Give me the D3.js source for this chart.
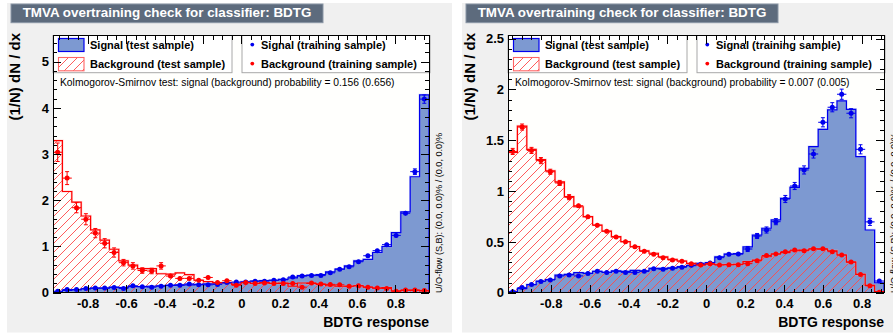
<!DOCTYPE html>
<html><head><meta charset="utf-8">
<script src="https://cdn.jsdelivr.net/npm/d3@7"></script>
<style>
body{margin:0;background:#fff;}
svg{display:block;font-family:"Liberation Sans",Arial,Helvetica,sans-serif;}
</style></head><body>
<svg id="c" width="893" height="335"></svg>
<script>
// ---------------- DATA ----------------
const nBins = 40;
const titleText = "TMVA overtraining check for classifier: BDTG";
const xTicks = [-0.8, -0.6, -0.4, -0.2, 0, 0.2, 0.4, 0.6, 0.8];
const yTicksL = [0, 1, 2, 3, 4, 5];
const yTicksR = [0, 0.5, 1, 1.5, 2, 2.5];
const ksL = "Kolmogorov-Smirnov test: signal (background) probability = 0.156 (0.656)";
const ksR = "Kolmogorov-Smirnov test: signal (background) probability = 0.007 (0.005)";
const uoText = "U/O-flow (S,B): (0.0, 0.0)% / (0.0, 0.0)%";

// Left panel
const sigTestL = [0.02,0.05,0.06,0.08,0.10,0.10,0.12,0.11,0.13,0.13,0.14,0.15,0.16,0.17,0.17,0.18,0.19,0.20,0.20,0.21,
                  0.24,0.25,0.26,0.27,0.29,0.32,0.37,0.38,0.39,0.45,0.51,0.58,0.69,0.72,0.87,1.00,1.30,1.75,2.51,4.28];
const bkgTestL = [3.29,2.19,1.96,1.66,1.36,1.14,0.94,0.69,0.60,0.52,0.52,0.41,0.40,0.43,0.39,0.27,0.24,0.22,0.22,0.18,
                  0.22,0.20,0.22,0.20,0.21,0.14,0.21,0.20,0.18,0.15,0.14,0.14,0.15,0.12,0.10,0.11,0.04,0.05,0.05,0.04];
const sigTrainL = [0.03,0.07,0.07,0.09,0.10,0.10,0.11,0.09,0.15,0.13,0.12,0.14,0.16,0.16,0.19,0.17,0.17,0.18,0.22,0.23,
                   0.23,0.25,0.25,0.27,0.28,0.34,0.36,0.37,0.37,0.43,0.51,0.56,0.67,0.80,0.91,1.04,1.24,1.72,2.62,4.19];
const bkgTrainL = [3.04,2.48,1.84,1.59,1.29,1.07,0.87,0.65,0.58,0.48,0.47,0.58,0.36,0.31,0.31,0.27,0.33,0.22,0.26,0.16,
                   0.22,0.20,0.21,0.20,0.20,0.20,0.12,0.21,0.19,0.18,0.17,0.14,0.15,0.12,0.10,0.09,0.03,0.06,0.06,0.05];
const sigErrL = [0.01,0.02,0.02,0.02,0.02,0.02,0.02,0.02,0.02,0.02,0.02,0.02,0.02,0.02,0.02,0.02,0.02,0.02,0.02,0.02,
                 0.02,0.02,0.02,0.02,0.03,0.03,0.03,0.03,0.03,0.03,0.03,0.03,0.04,0.04,0.04,0.04,0.05,0.05,0.06,0.09];
const bkgErrL = [0.20,0.14,0.11,0.12,0.10,0.10,0.10,0.07,0.07,0.06,0.06,0.07,0.05,0.05,0.05,0.04,0.05,0.04,0.04,0.04,
                 0.04,0.04,0.04,0.04,0.04,0.04,0.03,0.04,0.04,0.04,0.04,0.03,0.03,0.03,0.03,0.03,0.02,0.02,0.02,0.02];

// Right panel
const sigTestR = [0.01,0.04,0.08,0.115,0.13,0.174,0.18,0.197,0.19,0.21,0.20,0.215,0.21,0.22,0.215,0.24,0.24,0.245,0.256,0.266,
                  0.289,0.295,0.354,0.381,0.385,0.45,0.568,0.634,0.716,0.929,1.037,1.224,1.437,1.608,1.80,1.887,1.805,1.339,0.617,0.098];
const bkgTestR = [1.38,1.64,1.41,1.31,1.20,1.09,0.945,0.846,0.748,0.666,0.607,0.551,0.502,0.453,0.413,0.388,0.354,0.328,0.312,0.289,
                  0.273,0.28,0.275,0.275,0.28,0.305,0.322,0.354,0.381,0.394,0.413,0.418,0.43,0.428,0.413,0.371,0.30,0.18,0.072,0.01];
const sigTrainR = [0.01,0.05,0.08,0.11,0.125,0.165,0.175,0.165,0.19,0.21,0.20,0.21,0.20,0.20,0.21,0.235,0.23,0.24,0.25,0.27,
                   0.28,0.293,0.345,0.378,0.38,0.43,0.558,0.617,0.699,0.922,1.05,1.208,1.365,1.677,1.825,1.953,1.766,1.411,0.697,0.115];
const bkgTrainR = [1.39,1.63,1.40,1.30,1.19,1.08,0.94,0.856,0.748,0.663,0.604,0.548,0.502,0.453,0.407,0.378,0.345,0.322,0.31,0.285,
                   0.273,0.286,0.273,0.276,0.276,0.286,0.315,0.366,0.381,0.404,0.419,0.413,0.432,0.432,0.404,0.371,0.302,0.18,0.068,0.005];
const sigErrR = [0.005,0.01,0.01,0.015,0.015,0.015,0.015,0.015,0.015,0.015,0.015,0.015,0.015,0.015,0.015,0.015,0.015,0.015,0.015,0.02,
                 0.02,0.02,0.02,0.02,0.02,0.025,0.025,0.03,0.03,0.035,0.035,0.04,0.04,0.045,0.045,0.05,0.045,0.045,0.035,0.012];
const bkgErrR = [0.03,0.03,0.03,0.03,0.025,0.025,0.025,0.02,0.02,0.02,0.02,0.02,0.02,0.02,0.02,0.015,0.015,0.015,0.015,0.015,
                 0.015,0.015,0.015,0.015,0.015,0.015,0.015,0.015,0.015,0.015,0.015,0.015,0.015,0.015,0.015,0.015,0.015,0.01,0.01,0.005];

const panels = [
  {ox:0,   xMin:-0.98, xMax:0.975, yMax:5.567, yTicks:yTicksL, yMinor:0.2, ks:ksL,
   sigTest:sigTestL, bkgTest:bkgTestL, sigTrain:sigTrainL, bkgTrain:bkgTrainL, sigErr:sigErrL, bkgErr:bkgErrL},
  {ox:455, xMin:-1.02, xMax:0.915, yMax:2.531, yTicks:yTicksR, yMinor:0.1, ks:ksR,
   sigTest:sigTestR, bkgTest:bkgTestR, sigTrain:sigTrainR, bkgTrain:bkgTrainR, sigErr:sigErrR, bkgErr:bkgErrR}
];

// ---------------- STYLE ----------------
const C = {canvas:"#f0f0f0", titleBox:"#5D6B7D", titleBorder:"#8A96A5", sigFill:"#7d99d1", sigLine:"#0000ee",
           bkgLine:"#ff0000", hatch:"#ff4a4a"};

const svg = d3.select("#c");
const defs = svg.append("defs");
const pat = defs.append("pattern").attr("id","hatch").attr("patternUnits","userSpaceOnUse")
  .attr("width",9).attr("height",9);
pat.append("path").attr("d","M-1,1 L1,-1 M0,9 L9,0 M8,10 L10,8")
  .attr("stroke",C.hatch).attr("stroke-width",0.9).attr("fill","none");

function fmt(d){ return Math.abs(d)<1e-9 ? "0" : String(+d.toFixed(2)); }

function drawPanel(p, idx){
  const g = svg.append("g").attr("transform",`translate(${p.ox},0)`);
  const fx0=53, fx1=429, fy0=35.5, fy1=292.7;
  g.append("rect").attr("x",7).attr("y",3).attr("width",445).attr("height",329.5).attr("fill",C.canvas);

  const x = d3.scaleLinear().domain([p.xMin,p.xMax]).range([fx0,fx1]);
  const y = d3.scaleLinear().domain([0,p.yMax]).range([fy1,fy0]);

  g.append("rect").attr("x",fx0).attr("y",fy0).attr("width",fx1-fx0).attr("height",fy1-fy0).attr("fill","#fffffd");

  const clipId = "clip"+idx;
  defs.append("clipPath").attr("id",clipId).append("rect")
    .attr("x",p.ox+fx0).attr("y",fy0).attr("width",fx1-fx0).attr("height",fy1-fy0);
  const clipWrap = svg.append("g").attr("clip-path",`url(#${clipId})`);
  const pg = clipWrap.append("g").attr("transform",`translate(${p.ox},0)`);

  const n = p.sigTest.length;
  const edges = d3.range(n+1).map(i => p.xMin + i*(p.xMax-p.xMin)/n);
  function stepPts(vals){
    const pts=[[edges[0],0]];
    vals.forEach((v,i)=>{pts.push([edges[i],v]); pts.push([edges[i+1],v]);});
    pts.push([edges[n],0]);
    return pts;
  }
  const line = d3.line().x(d=>x(d[0])).y(d=>y(d[1]));

  // signal fill
  pg.append("path").attr("d",line(stepPts(p.sigTest))+"Z").attr("fill",C.sigFill).attr("stroke","none");
  // background hatch
  pg.append("path").attr("d",line(stepPts(p.bkgTest))+"Z").attr("fill","url(#hatch)").attr("stroke","none");
  // outlines with soft halo
  pg.append("path").attr("d",line(stepPts(p.sigTest))).attr("fill","none").attr("stroke","#8c9cf0").attr("stroke-width",2.4).attr("opacity",0.4);
  pg.append("path").attr("d",line(stepPts(p.sigTest))).attr("fill","none").attr("stroke",C.sigLine).attr("stroke-width",1.2);
  pg.append("path").attr("d",line(stepPts(p.bkgTest))).attr("fill","none").attr("stroke","#ffa0a0").attr("stroke-width",2.4).attr("opacity",0.4);
  pg.append("path").attr("d",line(stepPts(p.bkgTest))).attr("fill","none").attr("stroke",C.bkgLine).attr("stroke-width",1.2);

  function points(vals, errs, color){
    const gp = pg.append("g").attr("stroke",color).attr("fill",color).attr("stroke-width",1);
    vals.forEach((v,i)=>{
      const cx = x((edges[i]+edges[i+1])/2), cy = y(v);
      const e = errs[i];
      gp.append("line").attr("x1",x(edges[i])).attr("x2",x(edges[i+1])).attr("y1",cy).attr("y2",cy);
      const ya=y(v+e), yb=y(Math.max(0,v-e));
      gp.append("line").attr("x1",cx).attr("x2",cx).attr("y1",ya).attr("y2",yb);
      if (cy-ya>2.5){
        gp.append("line").attr("x1",cx-2).attr("x2",cx+2).attr("y1",ya).attr("y2",ya);
        gp.append("line").attr("x1",cx-2).attr("x2",cx+2).attr("y1",yb).attr("y2",yb);
      }
      gp.append("circle").attr("cx",cx).attr("cy",cy).attr("r",2.5).attr("stroke","none");
    });
  }
  points(p.sigTrain, p.sigErr, C.sigLine);
  points(p.bkgTrain, p.bkgErr, C.bkgLine);

  // legends
  const lg = svg.append("g").attr("transform",`translate(${p.ox},0)`);
  lg.append("rect").attr("x",53).attr("y",fy0).attr("width",179).attr("height",37.2).attr("fill","#fff").attr("stroke","#a8a8a8").attr("stroke-width",1);
  lg.append("rect").attr("x",242).attr("y",fy0).attr("width",188).attr("height",37.2).attr("fill","#fff").attr("stroke","#a8a8a8").attr("stroke-width",1);
  lg.append("rect").attr("x",58.5).attr("y",38.5).attr("width",25.5).attr("height",13).attr("fill",C.sigFill).attr("stroke",C.sigLine).attr("stroke-width",1.2);
  lg.append("rect").attr("x",58.5).attr("y",57.5).attr("width",25.5).attr("height",13.3).attr("fill","url(#hatch)").attr("stroke","#ff6464").attr("stroke-width",1.1);
  lg.append("circle").attr("cx",252.3).attr("cy",44.6).attr("r",1.9).attr("fill",C.sigLine);
  lg.append("circle").attr("cx",252.3).attr("cy",63.6).attr("r",1.9).attr("fill",C.bkgLine);
  const lt = [["Signal (test sample)",90,49.3],["Background (test sample)",90,68.3],
              ["Signal (training sample)",261,49.3],["Background (training sample)",261,68.3]];
  lt.forEach(t=>lg.append("text").attr("x",t[1]).attr("y",t[2]).attr("font-size",11).attr("font-weight","bold").attr("fill","#000").text(t[0]));

  // KS text
  lg.append("text").attr("x",60).attr("y",86).attr("font-size",10.3).attr("fill","#000").text(p.ks);

  // axes
  const ag = svg.append("g").attr("transform",`translate(${p.ox},0)`);
  const xMinor = d3.range(-1.0, 1.0001, 0.05).map(v=>+v.toFixed(2)).filter(v=>v>=p.xMin && v<=p.xMax && !xTicks.some(t=>Math.abs(t-v)<1e-6));
  const yMinor = d3.range(0, p.yMax, p.yMinor).map(v=>+v.toFixed(2)).filter(v=>!p.yTicks.some(t=>Math.abs(t-v)<1e-6));
  function clean(sel){ sel.select(".domain").remove(); sel.selectAll("line").attr("stroke","#000").attr("shape-rendering","crispEdges"); }

  const bx = ag.append("g").attr("transform",`translate(0,${fy1})`)
    .call(d3.axisBottom(x).tickValues(xTicks).tickSize(-8).tickPadding(6.4).tickFormat(fmt));
  clean(bx);
  bx.selectAll("text").attr("font-size",13).attr("font-weight","bold").attr("fill","#000").attr("font-family",'"Liberation Sans",Arial,sans-serif');
  clean(ag.append("g").attr("transform",`translate(0,${fy1})`).call(d3.axisBottom(x).tickValues(xMinor).tickSize(-4).tickFormat("")));
  clean(ag.append("g").attr("transform",`translate(0,${fy0})`).call(d3.axisTop(x).tickValues(xTicks).tickSize(-8).tickFormat("")));
  clean(ag.append("g").attr("transform",`translate(0,${fy0})`).call(d3.axisTop(x).tickValues(xMinor).tickSize(-4).tickFormat("")));

  const ly = ag.append("g").attr("transform",`translate(${fx0},0)`)
    .call(d3.axisLeft(y).tickValues(p.yTicks).tickSize(-8).tickPadding(4).tickFormat(fmt));
  clean(ly);
  ly.selectAll("text").attr("font-size",13).attr("font-weight","bold").attr("fill","#000").attr("font-family",'"Liberation Sans",Arial,sans-serif');
  clean(ag.append("g").attr("transform",`translate(${fx0},0)`).call(d3.axisLeft(y).tickValues(yMinor).tickSize(-4).tickFormat("")));
  clean(ag.append("g").attr("transform",`translate(${fx1},0)`).call(d3.axisRight(y).tickValues(p.yTicks).tickSize(-8).tickFormat("")));
  clean(ag.append("g").attr("transform",`translate(${fx1},0)`).call(d3.axisRight(y).tickValues(yMinor).tickSize(-4).tickFormat("")));

  ag.append("rect").attr("x",fx0).attr("y",fy0).attr("width",fx1-fx0).attr("height",fy1-fy0)
    .attr("fill","none").attr("stroke","#000").attr("stroke-width",1).attr("shape-rendering","crispEdges");

  // axis titles
  ag.append("text").attr("x",fx1).attr("y",326.7).attr("text-anchor","end").attr("font-size",14).attr("font-weight","bold").text("BDTG response");
  ag.append("text").attr("transform","translate(20,33) rotate(-90)").attr("text-anchor","end").attr("font-size",15).attr("font-weight","bold").text("(1/N) dN / dx");
  ag.append("text").attr("transform","translate(441.5,293) rotate(-90)").attr("font-size",9.1).attr("fill","#000").text(uoText);

  // title box
  ag.append("rect").attr("x",11).attr("y",4).attr("width",312).attr("height",18.7).attr("fill",C.titleBox).attr("stroke",C.titleBorder).attr("stroke-width",1);
  ag.append("text").attr("x",167).attr("y",17.4).attr("text-anchor","middle").attr("font-size",13.4).attr("font-weight","bold").attr("fill","#fff").text(titleText);
}

panels.forEach(drawPanel);
</script>
</body></html>
